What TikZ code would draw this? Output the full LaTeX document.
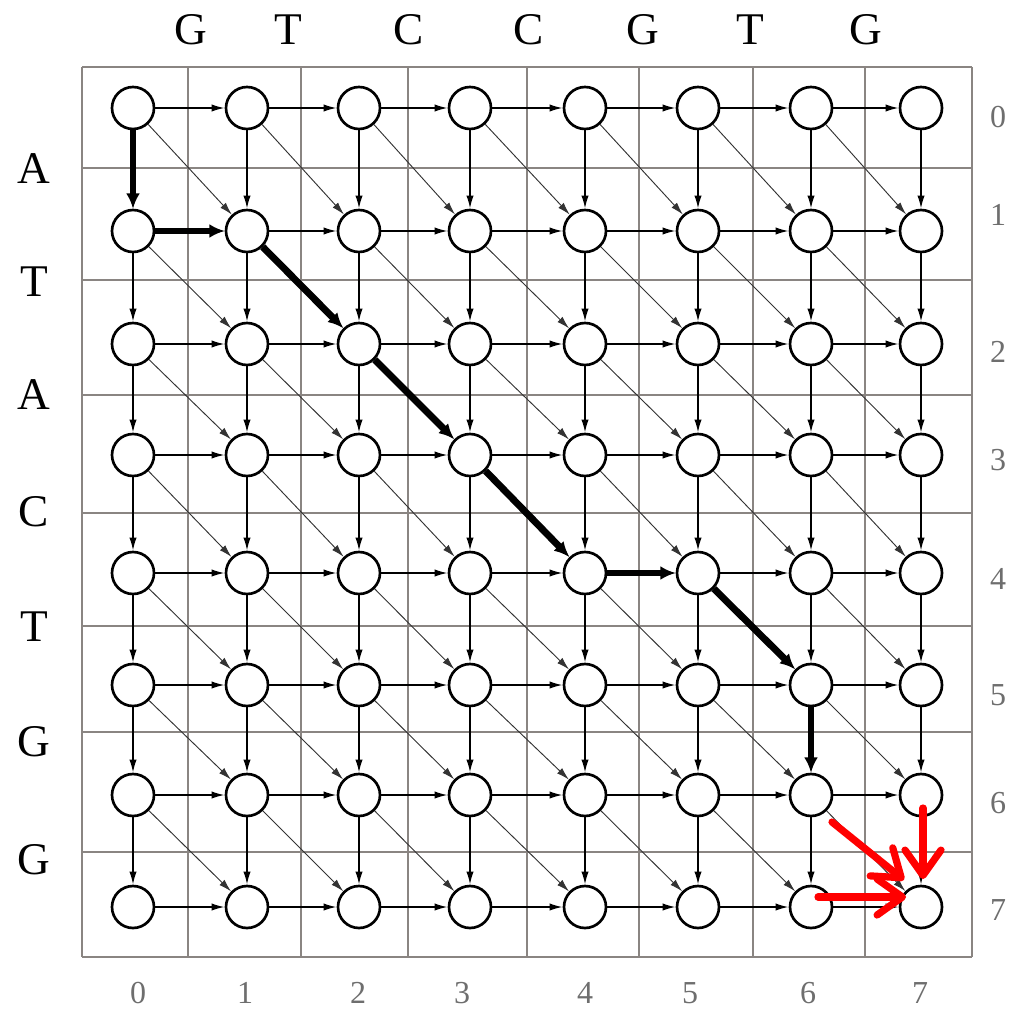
\documentclass[tikz,border=0pt]{standalone}
\usepackage{fontspec}
\setmainfont{Liberation Serif}
\usetikzlibrary{arrows.meta,calc}
\definecolor{gridgray}{HTML}{8A8582}
\definecolor{numgray}{HTML}{6E6E6E}
\definecolor{diaggray}{HTML}{333333}
\tikzset{
  vtx/.style={circle, draw=black, line width=2pt, fill=white, minimum size=31.5pt, inner sep=0pt},
  thinarr/.style={draw=black, line width=0.9pt, -{Latex[length=9.5pt,width=5.5pt]}, shorten >=0.3pt},
  diagarr/.style={draw=diaggray, line width=0.7pt, -{Latex[length=9.5pt,width=5.5pt]}},
  boldarr/.style={draw=black, line width=5.2pt, -{Latex[length=11.5pt,width=10.5pt]}},
  redarr/.style={draw=red, line width=5.4pt, line cap=round, -{Straight Barb[length=19pt,width=27pt,round]}},
  gridln/.style={draw=gridgray, line width=1.1pt},
  seqlab/.style={font=\fontsize{34}{34}\selectfont, text=black, inner sep=0pt},
  numlab/.style={font=\fontsize{24}{24}\selectfont, text=numgray, inner sep=0pt}
}
\begin{document}
\begin{tikzpicture}[x=0.75pt,y=-0.75pt]
\useasboundingbox (0,0) rectangle (1012,1009);
% grid
\foreach \gx in {82,188,301,408,527,639,753,865,972} \draw[gridln] (\gx,67) -- (\gx,957);
\foreach \gy in {67,168,280,395,513,626,732,852,957} \draw[gridln] (82,\gy) -- (972,\gy);
% nodes
\foreach \cx [count=\i from 0] in {133,247,359,470,585,698,811,921}{
  \foreach \cy [count=\j from 0] in {108,231,344,455,573,685,795,907}{
    \node[vtx] (n-\i-\j) at (\cx,\cy) {};
  }
}
% thin edges
\foreach \i [evaluate=\i as \ni using int(\i+1)] in {0,...,6}{
  \foreach \j in {0,...,7}{
    \draw[thinarr] (n-\i-\j) -- (n-\ni-\j);
  }
}
\foreach \i in {0,...,7}{
  \foreach \j [evaluate=\j as \nj using int(\j+1)] in {0,...,6}{
    \draw[thinarr] (n-\i-\j) -- (n-\i-\nj);
  }
}
\foreach \i [evaluate=\i as \ni using int(\i+1)] in {0,...,6}{
  \foreach \j [evaluate=\j as \nj using int(\j+1)] in {0,...,6}{
    \draw[diagarr] (n-\i-\j) -- (n-\ni-\nj);
  }
}
% bold path
\draw[boldarr] (n-0-0) -- (n-0-1);
\draw[boldarr] (n-0-1) -- (n-1-1);
\draw[boldarr] (n-1-1) -- (n-2-2);
\draw[boldarr] (n-2-2) -- (n-3-3);
\draw[boldarr] (n-3-3) -- (n-4-4);
\draw[boldarr] (n-4-4) -- (n-5-4);
\draw[boldarr] (n-5-4) -- (n-6-5);
\draw[boldarr] (n-6-5) -- (n-6-6);
% red arrows
\coordinate (rd) at (832,822);
\coordinate (rv) at (923,808);
\coordinate (rh) at (818,897);
\draw[redarr] (rd) -- ($(n-7-7)+(-17,-27)$);
\draw[redarr] (rv) -- ($(n-7-7)+(2,-28)$);
\draw[redarr] (rh) -- ($(n-7-7)+(-15,-10)$);
% top sequence
\foreach \t/\lx in {G/191,T/288,C/409,C/529,G/643,T/750,G/866}
  \node[seqlab] (top-\lx) at (\lx,30) {\t};
% left sequence
\foreach \t/\ly in {A/169,T/282,A/395,C/512,T/627,G/742,G/860}
  \node[seqlab] (left-\ly) at (34,\ly) {\t};
% right numbers
\foreach \t/\ly in {0/117,1/215,2/352,3/460,4/579,5/695,6/803,7/910}
  \node[numlab] (rn-\t) at (998,\ly) {\t};
% bottom numbers
\foreach \t/\lx in {0/138,1/245,2/358,3/462,4/585,5/690,6/808,7/920}
  \node[numlab] (bn-\t) at (\lx,993) {\t};
\end{tikzpicture}
\end{document}
